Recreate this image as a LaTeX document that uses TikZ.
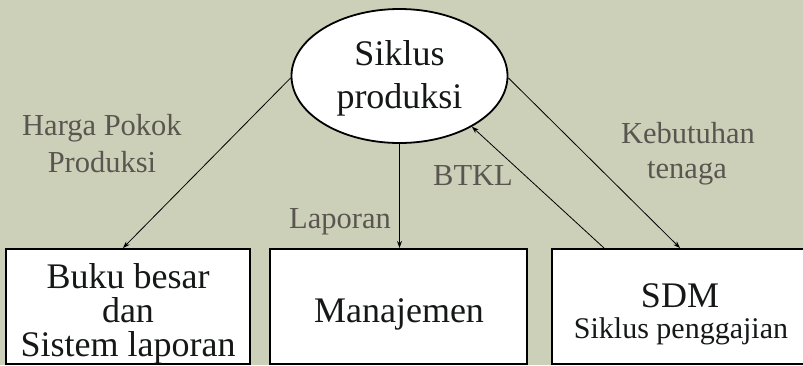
\documentclass[tikz,border=0pt]{standalone}
\usepackage{fontspec}
\setmainfont{Liberation Serif}
\usetikzlibrary{arrows.meta,shapes.geometric}
\definecolor{bgc}{HTML}{CDD0B9}
\definecolor{lblc}{HTML}{595650}
\definecolor{txtc}{HTML}{161818}
\tikzset{
  box/.style={draw=black, line width=2pt, fill=white, minimum width=#1, minimum height=115pt, inner sep=0pt},
  ell/.style={draw=black, line width=1.8pt, fill=white, ellipse, minimum width=216pt, minimum height=134pt, inner sep=0pt},
  big/.style={anchor=base, inner sep=0pt, text=txtc, font=\fontsize{36}{40}\selectfont},
  mid/.style={anchor=base, inner sep=0pt, text=txtc, font=\fontsize{30}{34}\selectfont},
  lbl/.style={anchor=base, inner sep=0pt, text=lblc, font=\fontsize{30.5}{34}\selectfont},
  conn/.style={draw=black, line width=0.8pt, -{Stealth[length=7pt,width=5pt]}}
}
\begin{document}
\begin{tikzpicture}[x=1pt,y=-1pt]
\useasboundingbox (0,0) rectangle (803,365);
\fill[bgc] (0,0) rectangle (803,365);
\begin{scope}
\clip (0,0) rectangle (803,365);
\node[box=244pt] (b1) at (128,306.5) {};
\node[box=257pt] (b2) at (398.5,306.5) {};
\node[box=260pt] (b3) at (682,306.5) {};
\end{scope}
\node[ell] (e) at (399.5,76) {};
% texts
\node[big] (e1) at (399.5,65) {Siklus};
\node[big] (e2) at (399.5,108) {produksi};
\node[big] (t1a) at (128,288) {Buku besar};
\node[big] (t1b) at (128,322) {dan};
\node[big] (t1c) at (128,356) {Sistem laporan};
\node[big] (t2) at (399,322) {Manajemen};
\node[big] (t3a) at (680,307) {SDM};
\node[mid] (t3b) at (681,338) {Siklus penggajian};
% labels
\node[lbl] (l1a) at (102,135) {Harga Pokok};
\node[lbl] (l1b) at (102,172) {Produksi};
\node[lbl] (l2) at (340,228) {Laporan};
\node[lbl] (l3) at (473,185) {BTKL};
\node[lbl] (l4a) at (688,143) {Kebutuhan};
\node[lbl] (l4b) at (687,178) {tenaga};
% connectors
\draw[conn] (e.181) -- ([xshift=-5pt]b1.north);
\draw[conn] (e.south) -- (e.south |- b2.north);
\draw[conn] ([xshift=-78pt]b3.north) -- (e.-35);
\draw[conn] (e.-1) -- ([xshift=-2pt]b3.north);
\end{tikzpicture}
\end{document}
